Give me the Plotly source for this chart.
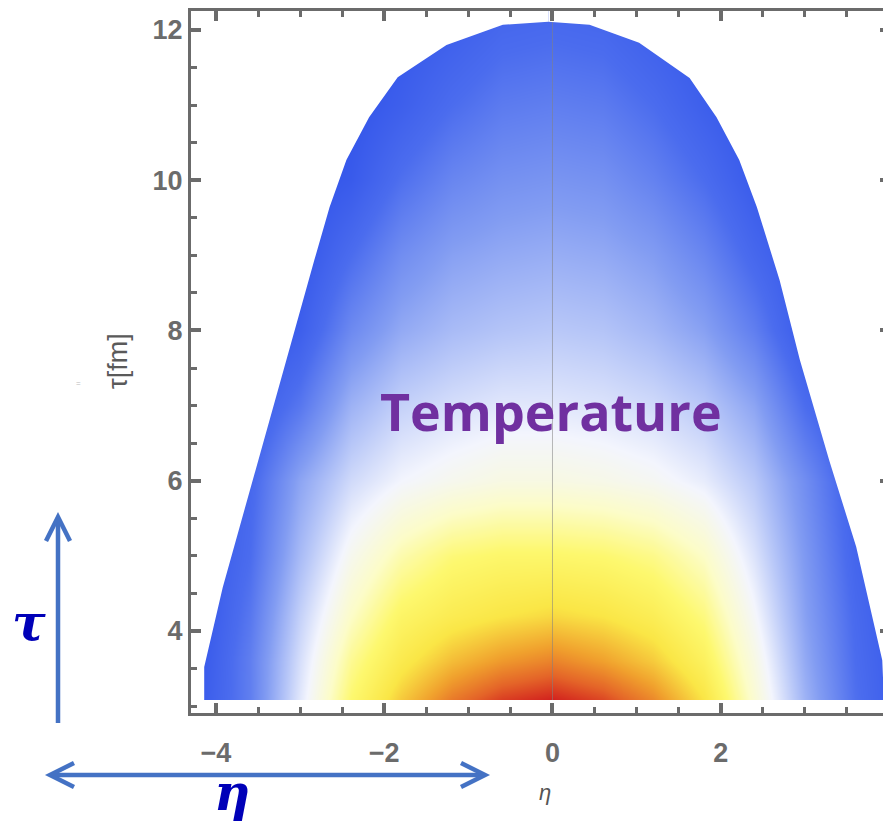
import plotly.graph_objects as go

# ---------------- data ----------------
eta_nodes = [-4.2, -3.6, -3.0, -2.4, -1.8, -1.2, -0.6, 0.0, 0.6, 1.2, 1.8, 2.4, 3.0, 3.6, 4.2]
tau_nodes = [3.1, 3.6, 4.2, 5.0, 6.0, 7.0, 8.0, 9.0, 10.0, 11.0, 12.2]

# relative temperature level (0 = freeze-out blue, 1 = hottest red)
T_3_1 = [0.04, 0.17, 0.42, 0.65, 0.79, 0.90, 0.97, 1.00, 0.96, 0.88, 0.75, 0.53, 0.30, 0.13, 0.03]
T_3_6 = [0.03, 0.17, 0.40, 0.61, 0.73, 0.81, 0.86, 0.89, 0.85, 0.79, 0.69, 0.50, 0.28, 0.12, 0.03]
T_4_2 = [0.02, 0.15, 0.37, 0.55, 0.67, 0.72, 0.75, 0.77, 0.75, 0.71, 0.63, 0.46, 0.26, 0.11, 0.02]
T_5_0 = [0.02, 0.12, 0.32, 0.48, 0.58, 0.64, 0.66, 0.66, 0.65, 0.62, 0.55, 0.41, 0.24, 0.09, 0.02]
T_6_0 = [0.02, 0.10, 0.27, 0.39, 0.45, 0.48, 0.50, 0.50, 0.49, 0.47, 0.43, 0.35, 0.21, 0.07, 0.02]
T_7_0 = [0.00, 0.05, 0.15, 0.30, 0.37, 0.40, 0.42, 0.42, 0.41, 0.39, 0.35, 0.27, 0.12, 0.03, 0.00]
T_8_0 = [0.00, 0.00, 0.06, 0.20, 0.28, 0.32, 0.34, 0.35, 0.34, 0.31, 0.26, 0.17, 0.04, 0.00, 0.00]
T_9_0 = [0.00, 0.00, 0.02, 0.12, 0.21, 0.26, 0.28, 0.29, 0.28, 0.25, 0.19, 0.10, 0.02, 0.00, 0.00]
T_10 = [0.00, 0.00, 0.00, 0.04, 0.13, 0.19, 0.22, 0.23, 0.22, 0.18, 0.12, 0.04, 0.00, 0.00, 0.00]
T_11 = [0.00, 0.00, 0.00, 0.01, 0.06, 0.12, 0.16, 0.17, 0.16, 0.12, 0.06, 0.01, 0.00, 0.00, 0.00]
T_12 = [0.00, 0.00, 0.00, 0.00, 0.02, 0.05, 0.09, 0.10, 0.09, 0.05, 0.02, 0.00, 0.00, 0.00, 0.00]
T_grid = [T_3_1, T_3_6, T_4_2, T_5_0, T_6_0, T_7_0, T_8_0, T_9_0, T_10, T_11, T_12]

# freeze-out boundary of the hot region
left_eta = [-4.14, -4.14, -3.92, -2.83, -2.65, -2.45, -2.18, -1.84, -1.26, -0.59, -0.05]
left_tau = [3.08, 3.52, 4.58, 8.94, 9.64, 10.27, 10.84, 11.37, 11.80, 12.07, 12.11]
right_eta = [-0.05, 0.44, 1.03, 1.63, 1.95, 2.22, 2.43, 2.70, 2.94, 3.29, 3.61, 3.92, 3.94]
right_tau = [12.11, 12.07, 11.83, 11.36, 10.84, 10.27, 9.64, 8.67, 7.61, 6.27, 5.12, 3.61, 3.08]
tau_start = 3.08

x_ticks = [-4, -2, 0, 2, 4]
y_ticks = [4, 6, 8, 10, 12]

# ---------------- styling ----------------
OFF = 8                      # page body margin added by the browser
W, H = 891 - OFF, 821 - OFF
ML, MR, MT, MB = 183, 1, 3, 108
PW, PH = W - ML - MR, H - MT - MB
XR = [-4.297, 4.012]
YR = [2.908, 12.253]
GRAY = "#6B6B6B"
ABLUE = "#4472C4"


def px(x):
    return (x - OFF - ML) / PW


def py(y):
    return (OFF + H - MB - y) / PH


colorscale = [
    [0.0, "rgb(48,82,234)"],
    [0.12, "rgb(75,108,238)"],
    [0.25, "rgb(130,156,242)"],
    [0.35, "rgb(185,200,248)"],
    [0.45, "rgb(243,245,253)"],
    [0.55, "rgb(252,252,200)"],
    [0.65, "rgb(253,248,110)"],
    [0.75, "rgb(250,230,70)"],
    [0.85, "rgb(240,160,45)"],
    [0.93, "rgb(228,100,40)"],
    [1.0, "rgb(210,35,30)"],
]

fig = go.Figure()
fig.add_trace(go.Heatmap(x=eta_nodes, y=tau_nodes, z=T_grid, zmin=0, zmax=1,
                         colorscale=colorscale, zsmooth="best", showscale=False,
                         hoverinfo="skip"))

# faint vertical line at eta = 0
fig.add_trace(go.Scatter(x=[0, 0], y=[tau_start, max(left_tau)], mode="lines",
                         line=dict(color="rgba(130,130,130,0.55)", width=1),
                         hoverinfo="skip", showlegend=False))

# white masks outside the boundary
X0, X1, Y0, Y1 = -5.0, 5.0, 2.0, 13.0
fig.add_trace(go.Scatter(x=[X0] + left_eta + [left_eta[-1], X0],
                         y=[Y0] + left_tau + [Y1, Y1],
                         fill="toself", fillcolor="white", mode="lines",
                         line=dict(width=0, color="white"), hoverinfo="skip", showlegend=False))
fig.add_trace(go.Scatter(x=right_eta + [X1, X1, right_eta[0]],
                         y=right_tau + [Y0, Y1, Y1],
                         fill="toself", fillcolor="white", mode="lines",
                         line=dict(width=0, color="white"), hoverinfo="skip", showlegend=False))
fig.add_trace(go.Scatter(x=[X0, X1, X1, X0], y=[Y0, Y0, tau_start, tau_start],
                         fill="toself", fillcolor="white", mode="lines",
                         line=dict(width=0, color="white"), hoverinfo="skip", showlegend=False))

axis_common = dict(showline=True, linecolor=GRAY, linewidth=3, mirror="allticks",
                   ticks="inside", ticklen=10, tickwidth=3.5, tickcolor=GRAY,
                   showgrid=False, zeroline=False, automargin=False,
                   tickfont=dict(family="Liberation Sans", size=27, color=GRAY, weight="bold"))

fig.update_xaxes(range=XR, tickvals=x_ticks, ticktext=[("−" if v < 0 else "") + str(abs(v)) for v in x_ticks],
                 ticklabelstandoff=14,
                 minor=dict(dtick=0.5, tick0=0, ticks="inside", ticklen=6, tickwidth=2.5, tickcolor=GRAY),
                 **axis_common)
fig.update_yaxes(range=YR, tickvals=y_ticks, ticktext=[str(v) for v in y_ticks],
                 ticklabelstandoff=0,
                 minor=dict(dtick=0.5, tick0=0, ticks="inside", ticklen=6, tickwidth=2.5, tickcolor=GRAY),
                 **axis_common)

shapes = []


def path_shape(points, width=4.5):
    d = "M " + " L ".join(f"{px(a):.5f},{py(b):.5f}" for a, b in points)
    return dict(type="path", xref="paper", yref="paper", path=d,
                line=dict(color=ABLUE, width=width))


# vertical tau arrow
shapes.append(path_shape([(58, 723), (58, 518)]))
shapes.append(path_shape([(46, 541), (58, 517), (70, 541)]))
# horizontal eta double arrow
shapes.append(path_shape([(51, 775), (484, 775)]))
shapes.append(path_shape([(74, 763), (50, 775), (74, 787)]))
shapes.append(path_shape([(461, 763), (485, 775), (461, 787)]))

annotations = [
    dict(text="Temperature", x=px(551), y=py(410), xref="paper", yref="paper",
         showarrow=False, xanchor="center", yanchor="middle",
         font=dict(family="Open Sans", size=52, color="#7030A0", weight="bold")),
    dict(text="<b><i>τ</i></b>", x=px(29), y=py(622), xref="paper", yref="paper",
         showarrow=False, xanchor="center", yanchor="middle",
         font=dict(family="DejaVu Serif", size=50, color="#0000B8")),
    dict(text="<b><i>η</i></b>", x=px(232), y=py(792), xref="paper", yref="paper",
         showarrow=False, xanchor="center", yanchor="middle",
         font=dict(family="DejaVu Serif", size=50, color="#0000B8")),
    dict(text="τ[fm]", x=px(118), y=py(361), xref="paper", yref="paper",
         showarrow=False, textangle=-90, xanchor="center", yanchor="middle",
         font=dict(family="Liberation Sans", size=27, color="#5A5A5A")),
    dict(text="<i>η</i>", x=px(545), y=py(793), xref="paper", yref="paper",
         showarrow=False, xanchor="center", yanchor="middle",
         font=dict(family="Liberation Sans", size=22, color="#555555")),
    dict(text="=", x=px(78), y=py(383), xref="paper", yref="paper",
         showarrow=False, xanchor="center", yanchor="middle",
         font=dict(family="Liberation Sans", size=8, color="#BBBBBB")),
]

fig.update_layout(width=W, height=H, margin=dict(l=ML, r=MR, t=MT, b=MB),
                  paper_bgcolor="white", plot_bgcolor="white", showlegend=False,
                  shapes=shapes, annotations=annotations)

fig.write_html("out.html")
